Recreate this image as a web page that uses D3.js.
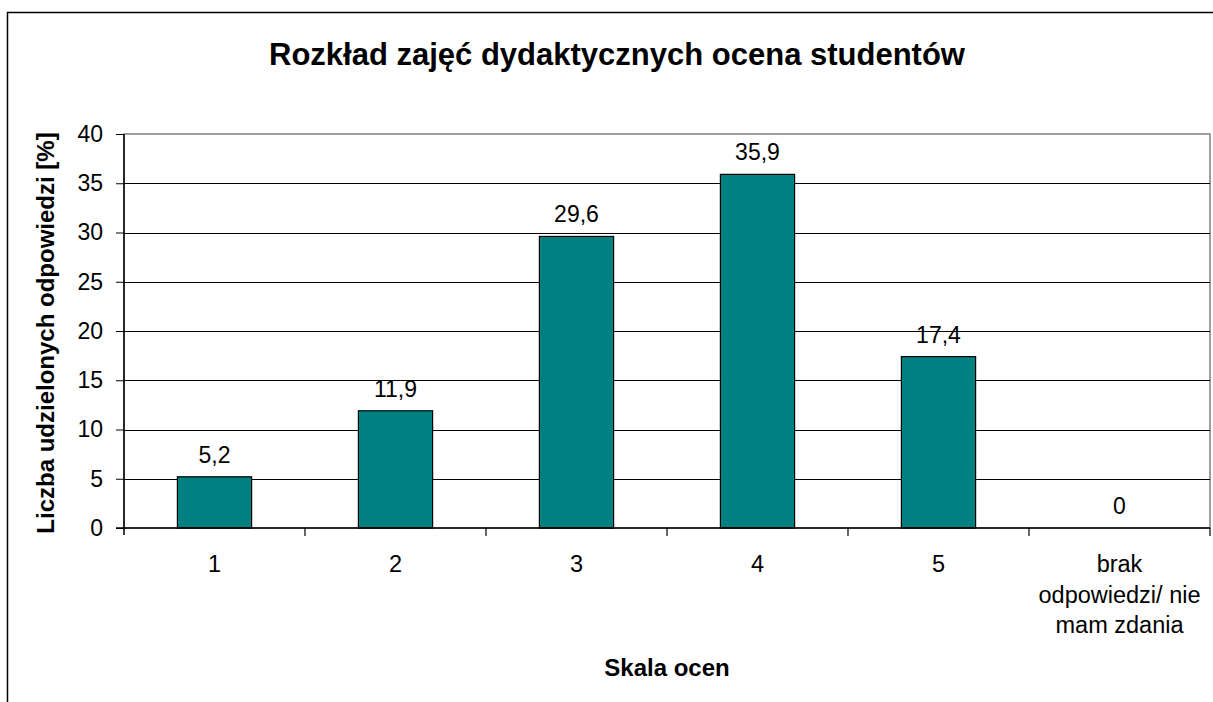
<!DOCTYPE html>
<html><head><meta charset="utf-8">
<script src="https://cdn.jsdelivr.net/npm/d3@7"></script>
<style>body{margin:0;background:#fff;} svg{display:block;font-family:"Liberation Sans",Arial,sans-serif;}</style>
</head><body>
<svg id="c" width="1213" height="702"></svg>
<script>
const categories = ["1","2","3","4","5","brak odpowiedzi/ nie mam zdania"];
const categoryLines = [["1"],["2"],["3"],["4"],["5"],["brak","odpowiedzi/ nie","mam zdania"]];
const values = [5.2, 11.9, 29.6, 35.9, 17.4, 0];
const valueLabels = ["5,2","11,9","29,6","35,9","17,4","0"];
const yTicks = [0,5,10,15,20,25,30,35,40];
const title = "Rozkład zajęć dydaktycznych ocena studentów";
const yTitle = "Liczba udzielonych odpowiedzi [%]";
const xTitle = "Skala ocen";

const svg = d3.select("#c");
const L=124, R=1210, T=134, B=528;
// outer border
svg.append("rect").attr("x",7.5).attr("y",12.5).attr("width",1220).attr("height",720)
  .attr("fill","none").attr("stroke","#000").attr("stroke-width",1.5);

const x = d3.scaleBand().domain(categories).range([L,R]).paddingInner(0).paddingOuter(0);
const y = d3.scaleLinear().domain([0,40]).range([B,T]);

// plot area frame
svg.append("rect").attr("x",L).attr("y",T).attr("width",R-L).attr("height",B-T)
  .attr("fill","none").attr("stroke","#808080").attr("stroke-width",1.5);
// gridlines
svg.append("g").selectAll("line").data(yTicks.filter(d=>d>0&&d<40)).join("line")
  .attr("x1",L).attr("x2",R).attr("y1",d=>Math.round(y(d))+0.5).attr("y2",d=>Math.round(y(d))+0.5)
  .attr("stroke","#000").attr("stroke-width",1);

// bars
const bw = x.bandwidth()*0.41;
svg.append("g").selectAll("rect").data(values).join("rect")
  .attr("x",(d,i)=>x(categories[i])+x.bandwidth()/2-bw/2)
  .attr("width",bw)
  .attr("y",d=>y(d)).attr("height",d=>B-y(d))
  .attr("fill","#008080").attr("stroke","#000").attr("stroke-width",1.2)
  .style("display",d=>d>0?null:"none");

// value labels
svg.append("g").selectAll("text").data(values).join("text")
  .attr("x",(d,i)=>x(categories[i])+x.bandwidth()/2)
  .attr("y",d=>y(d)-14)
  .attr("text-anchor","middle").attr("font-size",23).attr("fill","#000")
  .text((d,i)=>valueLabels[i]);

// y axis
const ya = d3.axisLeft(y).tickValues(yTicks).tickSize(8).tickPadding(13).tickFormat(d=>d);
const yg = svg.append("g").attr("transform",`translate(${L},0)`).call(ya);
yg.select(".domain").attr("d",`M0,${T}V${B+7}`).attr("stroke","#000").attr("stroke-width",1.5);
yg.selectAll(".tick line").attr("stroke","#000");
yg.selectAll(".tick text").attr("font-size",23).attr("fill","#000").attr("font-family","Liberation Sans, Arial, sans-serif");

// x axis line and ticks at band boundaries
svg.append("line").attr("x1",L-8).attr("x2",R).attr("y1",B).attr("y2",B).attr("stroke","#000").attr("stroke-width",1.5);
const bounds = categories.map(c=>x(c)).concat([R]);
svg.append("g").selectAll("line").data(bounds.slice(1)).join("line")
  .attr("x1",d=>d).attr("x2",d=>d).attr("y1",B).attr("y2",B+8).attr("stroke","#000").attr("stroke-width",1.2);

// category labels
const cl = svg.append("g").selectAll("text").data(categoryLines).join("text")
  .attr("x",(d,i)=>x(categories[i])+x.bandwidth()/2)
  .attr("y",572).attr("text-anchor","middle").attr("font-size",23.5).attr("fill","#000");
cl.selectAll("tspan").data(d=>d).join("tspan")
  .attr("x",function(){return this.parentNode.getAttribute("x");})
  .attr("dy",(d,i)=>i===0?0:30.5).text(d=>d);

// titles
svg.append("text").attr("x",617).attr("y",65).attr("text-anchor","middle")
  .attr("font-size",31).attr("font-weight","bold").text(title);
svg.append("text").attr("transform",`translate(54,${(T+B)/2+2}) rotate(-90)`).attr("text-anchor","middle")
  .attr("font-size",24).attr("font-weight","bold").text(yTitle);
svg.append("text").attr("x",667).attr("y",676).attr("text-anchor","middle")
  .attr("font-size",24).attr("font-weight","bold").text(xTitle);
</script>
</body></html>
